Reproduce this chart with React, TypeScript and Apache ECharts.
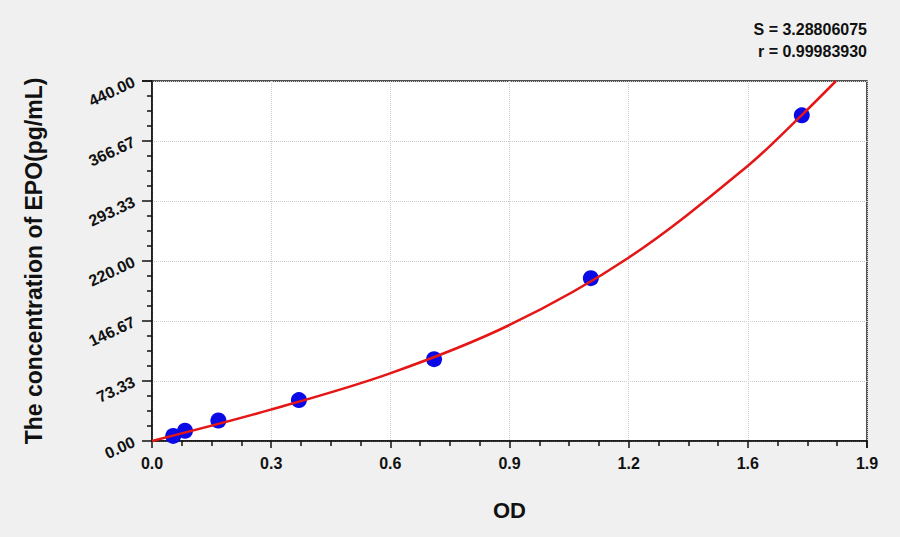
import { useEffect, useRef } from 'react'
import * as echarts from 'echarts'

// standard points (OD, concentration pg/mL)
const standardOD = [0.054, 0.084, 0.169, 0.374, 0.718, 1.117, 1.654]
const standardConc = [6.25, 12.5, 25, 50, 100, 199, 398]

// fitted curve
const curveOD = [0, 0.3, 0.606, 0.91, 1.213, 1.514, 1.654, 1.741]
const curveConc = [0, 38, 82.7, 141.8, 224, 335.3, 398.4, 440]

const xTickLabels = ['0.0', '0.3', '0.6', '0.9', '1.2', '1.6', '1.9']
const xMax = 1.82
const yMax = 440

const statLines = ['S = 3.28806075', 'r = 0.99983930']

const FONT = '"Liberation Sans", Arial, sans-serif'

export default function App() {
  const chartRef = useRef<HTMLDivElement>(null)

  useEffect(() => {
    document.body.style.margin = '0'
    if (!chartRef.current) return
    const chart = echarts.init(chartRef.current, null, { renderer: 'svg' })

    const xInterval = xMax / 6
    const yInterval = yMax / 6

    const option: echarts.EChartsOption = {
      animation: false,
      backgroundColor: '#f0f0f0',
      grid: {
        left: 152,
        right: 33,
        top: 81,
        bottom: 96,
        show: true,
        backgroundColor: '#ffffff',
        borderColor: '#1a1a1a',
        borderWidth: 1.5,
      },
      xAxis: {
        type: 'value',
        min: 0,
        max: xMax,
        interval: xInterval,
        name: 'OD',
        nameLocation: 'middle',
        nameGap: 58,
        nameTextStyle: { fontFamily: FONT, fontWeight: 'bold', fontSize: 22, color: '#111' },
        axisLine: { lineStyle: { color: '#111', width: 1.5 } },
        axisTick: { show: true, inside: false, length: 7, lineStyle: { color: '#111', width: 1.5 } },
        minorTick: { show: true, splitNumber: 4, length: 5, lineStyle: { color: '#111', width: 1.5 } },
        axisLabel: {
          margin: 14,
          fontFamily: FONT,
          fontWeight: 'bold',
          fontSize: 16,
          color: '#111',
          formatter: (v: number) => xTickLabels[Math.round(v / xInterval)] ?? '',
        },
        splitLine: { show: true, lineStyle: { color: '#cccccc', type: 'dotted', width: 1 } },
      },
      yAxis: {
        type: 'value',
        min: 0,
        max: yMax,
        interval: yInterval,
        name: 'The concentration of EPO(pg/mL)',
        nameLocation: 'middle',
        nameGap: 107,
        nameTextStyle: { fontFamily: FONT, fontWeight: 'bold', fontSize: 23, color: '#111' },
        axisLine: { show: true, lineStyle: { color: '#111', width: 1.5 } },
        axisTick: { show: true, inside: false, length: 10, lineStyle: { color: '#111', width: 1.5 } },
        minorTick: { show: true, splitNumber: 4, length: 5, lineStyle: { color: '#111', width: 1.5 } },
        axisLabel: {
          margin: 18,
          rotate: 25,
          fontFamily: FONT,
          fontWeight: 'bold',
          fontSize: 16,
          color: '#111',
          formatter: (v: number) => v.toFixed(2),
        },
        splitLine: { show: true, lineStyle: { color: '#cccccc', type: 'dotted', width: 1 } },
      },
      graphic: statLines.map((t, i) => ({
        type: 'text',
        right: 33,
        top: 21 + i * 22,
        style: {
          text: t,
          fontFamily: FONT,
          fontWeight: 'bold',
          fontSize: 16,
          fill: '#111',
        },
      })),
      series: [
        {
          type: 'scatter',
          data: standardOD.map((x, i) => [x, standardConc[i]]),
          symbol: 'circle',
          symbolSize: 16,
          itemStyle: { color: '#0a0ae6', opacity: 1 },
          z: 2,
        },
        {
          type: 'line',
          data: curveOD.map((x, i) => [x, curveConc[i]]),
          smooth: 0.35,
          symbol: 'none',
          lineStyle: { color: '#e41616', width: 2.5 },
          z: 3,
        },
      ],
    }

    chart.setOption(option)
    return () => chart.dispose()
  }, [])

  return <div ref={chartRef} style={{ width: 900, height: 537 }} />
}
